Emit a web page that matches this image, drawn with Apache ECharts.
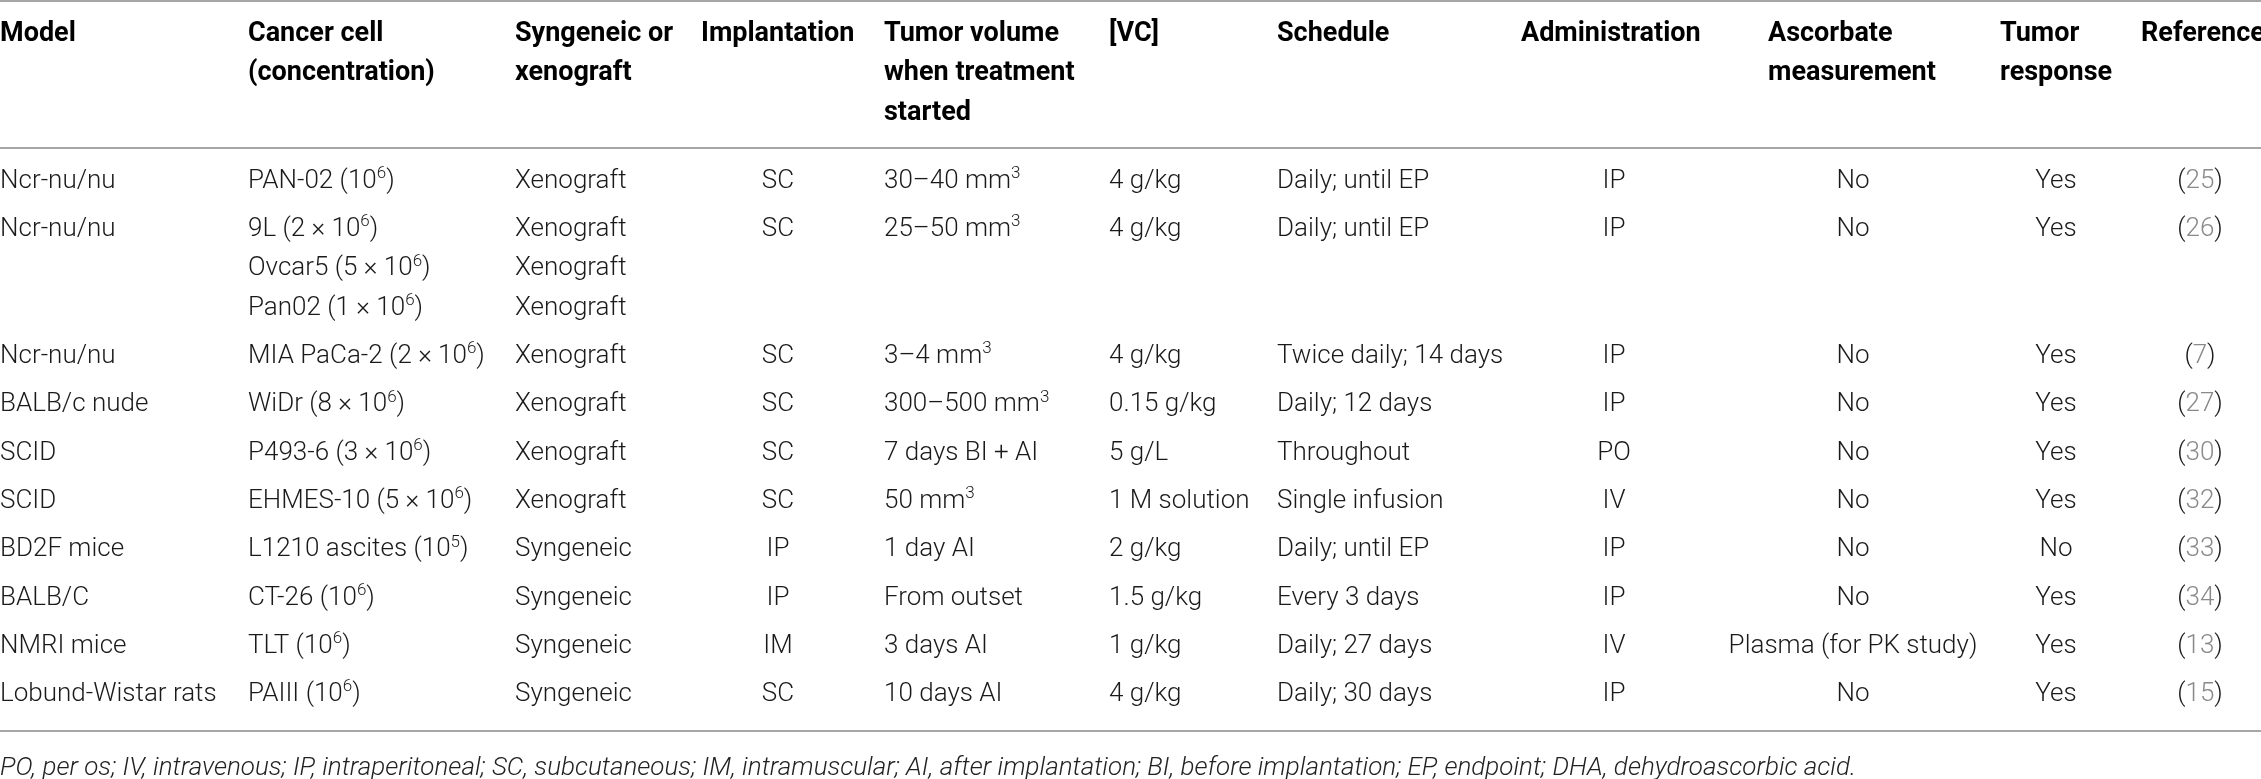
<!DOCTYPE html>
<html>
<head>
<meta charset="utf-8">
<script src="https://cdn.jsdelivr.net/npm/echarts@6/dist/echarts.min.js"></script>
<style>
  html, body { margin: 0; padding: 0; background: #fff; }
  #table_ref { width: 2261px; height: 779px; }
</style>
</head>
<body>
<div id="table_ref"></div>
<script>
// table content
const headers = [
  ['Model'], ['Cancer cell', '(concentration)'], ['Syngeneic or', 'xenograft'], ['Implantation'],
  ['Tumor volume', 'when treatment', 'started'], ['[VC]'], ['Schedule'], ['Administration'],
  ['Ascorbate', 'measurement'], ['Tumor', 'response'], ['Reference']
]
const models = ['Ncr-nu/nu', 'Ncr-nu/nu', 'Ncr-nu/nu', 'BALB/c nude', 'SCID', 'SCID', 'BD2F mice', 'BALB/C', 'NMRI mice', 'Lobund-Wistar rats']
const cancerCells = [
  ['PAN-02 (10^6)'], ['9L (2 × 10^6)', 'Ovcar5 (5 × 10^6)', 'Pan02 (1 × 10^6)'], ['MIA PaCa-2 (2 × 10^6)'],
  ['WiDr (8 × 10^6)'], ['P493-6 (3 × 10^6)'], ['EHMES-10 (5 × 10^6)'], ['L1210 ascites (10^5)'],
  ['CT-26 (10^6)'], ['TLT (10^6)'], ['PAIII (10^6)']
]
const graftTypes = [
  ['Xenograft'], ['Xenograft', 'Xenograft', 'Xenograft'], ['Xenograft'], ['Xenograft'], ['Xenograft'],
  ['Xenograft'], ['Syngeneic'], ['Syngeneic'], ['Syngeneic'], ['Syngeneic']
]
const implantation = ['SC', 'SC', 'SC', 'SC', 'SC', 'SC', 'IP', 'IP', 'IM', 'SC']
const tumorVolume = ['30–40 mm^3', '25–50 mm^3', '3–4 mm^3', '300–500 mm^3', '7 days BI + AI', '50 mm^3', '1 day AI', 'From outset', '3 days AI', '10 days AI']
const vcDose = ['4 g/kg', '4 g/kg', '4 g/kg', '0.15 g/kg', '5 g/L', '1 M solution', '2 g/kg', '1.5 g/kg', '1 g/kg', '4 g/kg']
const schedule = ['Daily; until EP', 'Daily; until EP', 'Twice daily; 14 days', 'Daily; 12 days', 'Throughout', 'Single infusion', 'Daily; until EP', 'Every 3 days', 'Daily; 27 days', 'Daily; 30 days']
const administration = ['IP', 'IP', 'IP', 'IP', 'PO', 'IV', 'IP', 'IP', 'IV', 'IP']
const ascorbate = ['No', 'No', 'No', 'No', 'No', 'No', 'No', 'No', 'Plasma (for PK study)', 'No']
const tumorResponse = ['Yes', 'Yes', 'Yes', 'Yes', 'Yes', 'Yes', 'No', 'Yes', 'Yes', 'Yes']
const references = ['25', '26', '7', '27', '30', '32', '33', '34', '13', '15']
const footnote = 'PO, per os; IV, intravenous; IP, intraperitoneal; SC, subcutaneous; IM, intramuscular; AI, after implantation; BI, before implantation; EP, endpoint; DHA, dehydroascorbic acid.'

// layout (axis units = px of the page)
const W = 2261
const H = 779
const colLayout = [
  { hx: 0, dx: 0, align: 'left' },
  { hx: 248, dx: 248, align: 'left' },
  { hx: 515, dx: 515, align: 'left' },
  { hx: 701, dx: 778, align: 'center' },
  { hx: 884, dx: 884, align: 'left' },
  { hx: 1109, dx: 1109, align: 'left' },
  { hx: 1277, dx: 1277, align: 'left' },
  { hx: 1521, dx: 1614, align: 'center' },
  { hx: 1768, dx: 1853, align: 'center' },
  { hx: 2000, dx: 2056, align: 'center' },
  { hx: 2141, dx: 2200, align: 'center' }
]
const headerY = [34, 73, 113]
const firstRowY = 181
const rowPitch = 48.3
const subPitch = 39.5
const ruleY = [1, 148, 731]
const footY = 768

const bodyFont = { fontFamily: 'Roboto', fontWeight: 300, fontSize: 26 }
const headFont = { fontFamily: 'Roboto', fontWeight: 'bold', fontSize: 27 }

const toRich = (txt) => {
  if (txt.indexOf('^') < 0) return txt
  return txt.split(/(\^\d)/).filter(s => s).map(s => s[0] === '^' ? '{s|' + s.slice(1) + '}' : '{m|' + s + '}').join('')
}

// build cells
const cells = []
headers.forEach((lines, c) => {
  lines.forEach((t, k) => {
    cells.push({ x: colLayout[c].hx, y: headerY[k], text: t, align: 'left', kind: 'head' })
  })
})
const columns = [
  models.map(m => [m]), cancerCells, graftTypes, implantation.map(v => [v]), tumorVolume.map(v => [v]),
  vcDose.map(v => [v]), schedule.map(v => [v]), administration.map(v => [v]), ascorbate.map(v => [v]),
  tumorResponse.map(v => [v]), references.map(v => ['{m|(}{g|' + v + '}{m|)}'])
]
let y0 = firstRowY
models.forEach((m, r) => {
  let nLines = 1
  columns.forEach((col, c) => {
    const lines = col[r]
    nLines = Math.max(nLines, lines.length)
    lines.forEach((t, k) => {
      cells.push({ x: colLayout[c].dx, y: y0 + k * subPitch, text: toRich(t), align: colLayout[c].align, kind: 'body' })
    })
  })
  y0 += (nLines - 1) * subPitch + rowPitch
})
cells.push({ x: 0, y: footY, text: footnote, align: 'left', kind: 'foot' })

const richStyle = {
  m: Object.assign({ fill: '#1a1a1a', color: '#1a1a1a', lineHeight: 32, verticalAlign: 'middle' }, bodyFont),
  s: Object.assign({}, bodyFont, { fontSize: 17, fill: '#1a1a1a', color: '#1a1a1a', lineHeight: 17, verticalAlign: 'top' }),
  g: Object.assign({ fill: '#8a8a8a', color: '#8a8a8a', lineHeight: 32, verticalAlign: 'middle' }, bodyFont)
}

const chart = echarts.init(document.getElementById('table_ref'), null, { renderer: 'canvas' })
chart.setOption({
  animation: false,
  backgroundColor: '#fff',
  grid: { left: 0, right: 0, top: 0, bottom: 0 },
  xAxis: { type: 'value', min: 0, max: W, show: false },
  yAxis: { type: 'value', min: 0, max: H, inverse: true, show: false },
  series: [
    {
      type: 'custom',
      silent: true,
      data: ruleY.map(y => [0, y]),
      renderItem: (params, api) => {
        const p1 = api.coord([0, api.value(1)])
        const p2 = api.coord([W, api.value(1)])
        return {
          type: 'line',
          shape: { x1: p1[0], y1: p1[1], x2: p2[0], y2: p2[1] },
          style: { stroke: '#a6a6a6', lineWidth: 2 }
        }
      }
    },
    {
      type: 'custom',
      silent: true,
      data: cells.map(c => [c.x, c.y]),
      renderItem: (params, api) => {
        const cell = cells[params.dataIndex]
        const p = api.coord([api.value(0), api.value(1)])
        let font = bodyFont
        let fill = '#1a1a1a'
        let fontStyle = 'normal'
        if (cell.kind === 'head') { font = headFont; fill = '#000' }
        if (cell.kind === 'foot') { font = Object.assign({}, bodyFont, { fontSize: 26 }); fontStyle = 'italic'; fill = '#222' }
        return {
          type: 'text',
          x: p[0],
          y: p[1],
          style: Object.assign({
            text: cell.text,
            fill: fill,
            fontStyle: fontStyle,
            align: cell.align,
            verticalAlign: 'middle',
            rich: richStyle
          }, font)
        }
      }
    }
  ]
})
</script>
</body>
</html>
